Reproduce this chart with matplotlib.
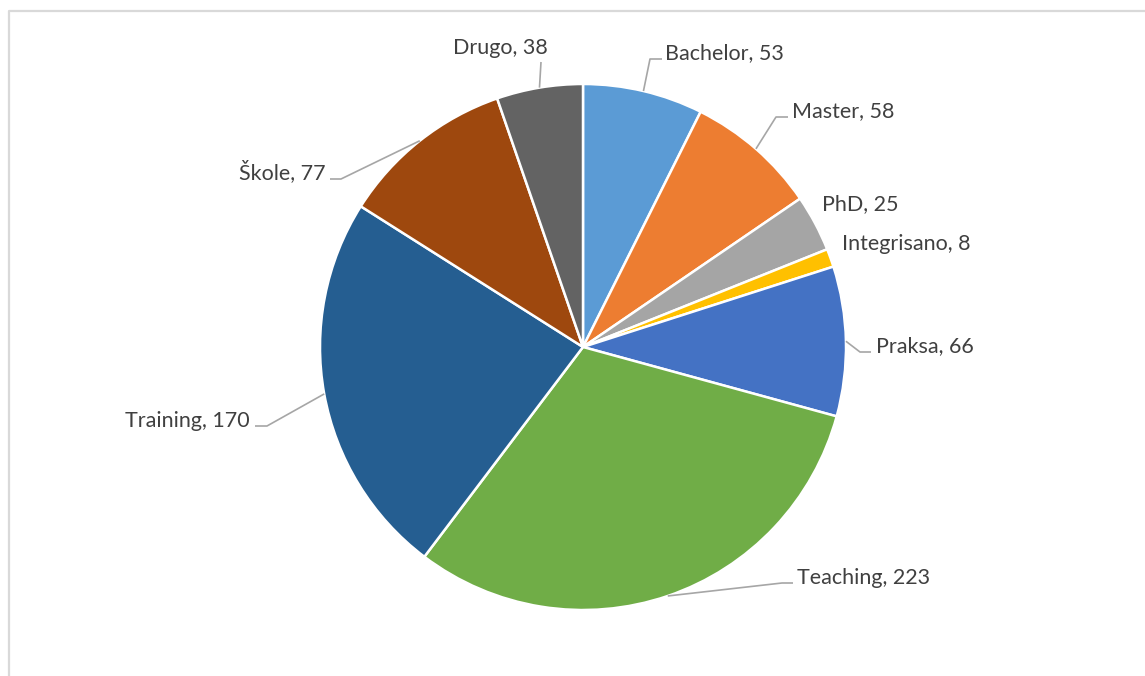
import numpy as np
import matplotlib.pyplot as plt

categories = ["Bachelor", "Master", "PhD", "Integrisano", "Praksa",
              "Teaching", "Training", "Škole", "Drugo"]
counts = [53, 58, 25, 8, 66, 223, 170, 77, 38]
colors = ["#5B9BD5", "#ED7D31", "#A5A5A5", "#FFC000", "#4472C4",
          "#70AD47", "#255E91", "#9E480E", "#636363"]

W, H = 1145, 676
CENTER = (583, H - 347)
RADIUS = 263

# label layout in image pixels (y from top): text x, baseline y, ha, leader elbows
label_layout = {
    "Bachelor": (665, 59, "left", [(650, 59), (662, 59)]),
    "Master": (792, 117, "left", [(776, 117), (788, 117)]),
    "PhD": (822, 210, "left", None),
    "Integrisano": (842, 250, "left", None),
    "Praksa": (876, 352, "left", [(860, 352), (871, 352)]),
    "Teaching": (797, 584, "left", [(782, 583), (793, 583)]),
    "Training": (250, 427, "right", [(267, 426), (255, 426)]),
    "Škole": (326, 179, "right", [(341, 179), (330, 179)]),
    "Drugo": (500, 54, "center", [(541, 62)]),
}

plt.rcParams["font.family"] = ["Lato", "DejaVu Sans"]

fig = plt.figure(figsize=(W / 100, H / 100), dpi=100)
ax = fig.add_axes([0, 0, 1, 1])

wedges, _ = ax.pie(counts, colors=colors, startangle=90, counterclock=False,
                   center=CENTER, radius=RADIUS, frame=False,
                   wedgeprops=dict(edgecolor="white", linewidth=1.8))

ax.set_xlim(0, W)
ax.set_ylim(0, H)
ax.set_aspect("equal")
ax.axis("off")

for wedge, name, value in zip(wedges, categories, counts):
    tx, ty, ha, elbows = label_layout[name]
    ax.text(tx, H - ty, f"{name}, {value}", ha=ha, va="baseline",
            fontsize=15.5, color="#404040")
    if elbows is None:
        continue
    mid = np.deg2rad((wedge.theta1 + wedge.theta2) / 2)
    xs = [CENTER[0] + RADIUS * np.cos(mid)] + [p[0] for p in elbows]
    ys = [CENTER[1] + RADIUS * np.sin(mid)] + [H - p[1] for p in elbows]
    ax.plot(xs, ys, color="#A6A6A6", linewidth=1.2, solid_capstyle="butt")

# chart frame
ax.plot([8.5, 8.5, W], [0, H - 10.5, H - 10.5], color="#D9D9D9", linewidth=1.6)

fig.savefig("out.png", dpi=100)
